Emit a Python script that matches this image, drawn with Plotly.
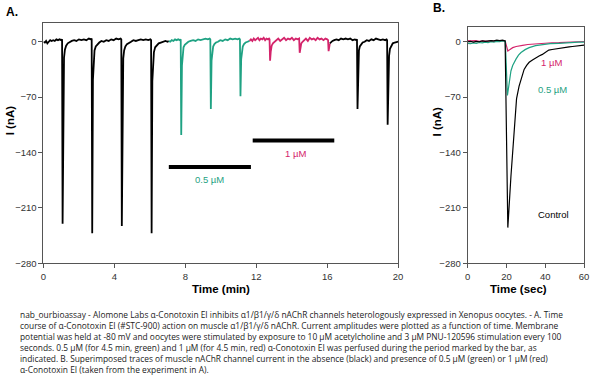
import plotly.graph_objects as go

# ---------------- Panel A data (time in min, current in nA) ----------------
a_black1_t = [0.00, 0.08, 0.15, 0.22, 0.30, 0.38, 0.46, 0.55, 0.64, 0.73, 0.82, 0.91, 1.00, 1.05,
              1.08, 1.12, 1.16, 1.21, 1.28, 1.37, 1.48, 1.60, 1.73, 1.86, 2.00, 2.14, 2.28, 2.42, 2.56, 2.68, 2.72,
              2.75, 2.79, 2.83, 2.88, 2.95, 3.04, 3.15, 3.27, 3.40, 3.54, 3.68, 3.82, 3.96, 4.10, 4.24, 4.35, 4.39,
              4.42, 4.46, 4.50, 4.55, 4.62, 4.71, 4.82, 4.94, 5.07, 5.21, 5.35, 5.49, 5.63, 5.77, 5.91, 6.03, 6.07,
              6.10, 6.14, 6.18, 6.23, 6.30, 6.39, 6.50, 6.62, 6.75, 6.88, 7.00, 7.07]
a_black1_i = [0, -1, 1, -2, 0, 2, 1, 2, 1, 3, 2, 3, 2, 3,
              -230, -45, -20, -10, -5, -2, 0, 1, 2, 1, 3, 2, 3, 2, 4, 3, 4,
              -242, -48, -22, -11, -6, -3, -1, 1, 0, 2, 1, 3, 2, 4, 3, 4, 3,
              -233, -46, -21, -11, -6, -3, -1, 0, 2, 1, 2, 3, 2, 3, 2, 3, 2,
              -242, -50, -24, -13, -7, -4, -2, -1, 0, 1, 0, 1]

a_green_t = [7.07, 7.15, 7.24, 7.33, 7.42, 7.51, 7.60, 7.69, 7.74,
             7.77, 7.81, 7.85, 7.90, 7.97, 8.06, 8.17, 8.30, 8.44, 8.58, 8.72, 8.86, 9.00, 9.14, 9.27, 9.37, 9.41,
             9.44, 9.48, 9.52, 9.57, 9.64, 9.73, 9.84, 9.97, 10.11, 10.25, 10.39, 10.53, 10.67, 10.81, 10.95, 11.04, 11.08,
             11.11, 11.15, 11.19, 11.24, 11.31, 11.40, 11.51, 11.62]
a_green_i = [1, 0, 2, 1, 3, 2, 3, 2, 3,
             -118, -30, -14, -7, -4, -2, 0, 1, 2, 1, 3, 2, 3, 4, 3, 4, 3,
             -85, -24, -11, -6, -3, -1, 0, 2, 1, 3, 2, 4, 3, 4, 3, 4, 3,
             -69, -22, -10, -6, -3, -1, 0, 1]

a_red_t = [11.62, 11.70, 11.78, 11.86, 11.94, 12.02, 12.10, 12.18, 12.26, 12.34, 12.42, 12.50, 12.58, 12.66, 12.72, 12.75,
           12.78, 12.82, 12.87, 12.94, 13.03, 13.13, 13.24, 13.35, 13.46, 13.57, 13.68, 13.79, 13.90, 14.01, 14.12, 14.23, 14.34, 14.42,
           14.45, 14.49, 14.54, 14.61, 14.70, 14.80, 14.91, 15.02, 15.13, 15.24, 15.35, 15.46, 15.57, 15.68, 15.79, 15.90, 16.00, 16.05,
           16.08, 16.12, 16.15]
a_red_i = [1, 3, 1, 4, 2, 3, 5, 2, 4, 3, 5, 2, 4, 3, 4, 3,
           -24, -12, -5, -2, 0, 2, 4, 1, 3, 5, 2, 4, 3, 5, 2, 4, 3, 4,
           -14, -6, -2, 0, 2, 4, 1, 5, 3, 4, 2, 5, 3, 4, 2, 4, 3, 2,
           -12, -5, -2]

a_black2_t = [16.15, 16.22, 16.30, 16.40, 16.52, 16.65, 16.78, 16.91, 17.04, 17.17, 17.30, 17.43, 17.56, 17.64, 17.68,
              17.71, 17.75, 17.79, 17.84, 17.91, 18.00, 18.11, 18.23, 18.36, 18.49, 18.62, 18.75, 18.88, 19.01, 19.14, 19.27, 19.35, 19.38,
              19.41, 19.45, 19.49, 19.54, 19.61, 19.70, 19.81, 19.92, 20.00]
a_black2_i = [-2, 0, 1, 2, 3, 2, 4, 3, 4, 3, 4, 2, 3, 2, 3,
              -85, -25, -11, -6, -3, -1, 0, 2, 1, 3, 2, 4, 3, 2, 3, 2, 3, 2,
              -105, -38, -18, -9, -5, -2, -1, 0, 0]

# perfusion bars (start, end, level)
bar_05_t = [7.07, 11.70]
bar_05_i = [-158.5, -158.5]
bar_1_t = [11.80, 16.40]
bar_1_i = [-124.8, -124.8]

# ---------------- Panel B data (time in sec, current in nA) ----------------
b_black_t = [0, 1.5, 3, 4.5, 6, 7.5, 9, 10.5, 12, 13.5, 15, 16.5, 18, 19.3, 20.7, 22.3, 24.0, 25.2, 26.5, 27.8,
             29.1, 30.4, 31.7, 33.4, 35.1, 36.8, 38.5, 40.2, 41.8, 43.5, 45.2, 47, 48.7, 50.5, 52.3, 54, 55.4, 57, 58.5, 60]
b_black_i = [0, 0.5, -0.5, 0.5, 0, 1, 0.5, 1, 1.5, 1, 2, 1.5, 2, 1, -235, -170, -109, -72, -56, -45,
             -35, -30, -26, -23, -20, -18, -16, -13.5, -10.5, -9.8, -9, -8.3, -7.5, -7, -6.5, -6, -5.5, -5, -4.6, -4.2]

b_green_t = [0, 1.5, 3, 4.5, 6, 7.5, 9, 10.5, 12, 13.5, 15, 16.5, 18, 19.4, 20.5, 21.5, 22.3, 23.2, 24.1, 24.9,
             26.2, 27.5, 29.6, 31.7, 35, 38.5, 42.5, 47, 52, 57.1, 60]
b_green_i = [-2, -2.5, -1.5, -2, -1, -1.5, -0.5, -1, 0, -0.5, 0.5, 0, 1, 0.5, -68, -47, -37, -30, -25, -22,
             -17, -13.7, -10, -7.5, -5, -3.4, -2.5, -2, -1, -0.5, -0.5]

b_red_t = [0, 2, 4, 6, 8, 10, 12, 14, 16, 18, 19.3, 20.7, 22, 23.2, 25, 26.7, 28.3, 31, 33.8, 36.8,
           40, 43.5, 47, 51, 55, 58.8, 60]
b_red_i = [1.5, 1, 1.5, 0.5, 1, 0.5, 1, 0.5, 1, 1.5, 1, -11.7, -9.5, -7.5, -6, -5, -4.6, -3.5, -2.8, -2.1,
           -1.6, -1.3, -1.2, -0.8, -0.2, 0.4, 0.3]

y_ticks = [0, -70, -140, -210, -280]
a_x_ticks = [0, 4, 8, 12, 16, 20]
b_x_ticks = [0, 20, 40, 60]

caption_lines = [
    "nab_ourbioassay - Alomone Labs α-Conotoxin EI inhibits α1/β1/γ/δ nAChR channels heterologously expressed in Xenopus oocytes. - A. Time",
    "course of α-Conotoxin EI (#STC-900) action on muscle α1/β1/γ/δ nAChR. Current amplitudes were plotted as a function of time. Membrane",
    "potential was held at -80 mV and oocytes were stimulated by exposure to 10 µM acetylcholine and 3 µM PNU-120596 stimulation every 100",
    "seconds. 0.5 µM (for 4.5 min, green) and 1 µM (for 4.5 min, red) α-Conotoxin EI was perfused during the period marked by the bar, as",
    "indicated. B. Superimposed traces of muscle nAChR channel current in the absence (black) and presence of 0.5 µM (green) or 1 µM (red)",
    "α-Conotoxin EI (taken from the experiment in A).",
]

# ---------------- styling ----------------
BLACK = "#000000"
GREEN = "#1fa283"
RED = "#d4246b"
NARROW = "Liberation Sans Narrow, Arial Narrow, Liberation Sans, Arial, sans-serif"
W, H = 595, 381

fig = go.Figure()

def add(x, y, color, width, xa, ya):
    fig.add_trace(go.Scatter(x=x, y=y, mode="lines", line=dict(color=color, width=width),
                             xaxis=xa, yaxis=ya, showlegend=False, hoverinfo="skip"))

add(a_black1_t, a_black1_i, BLACK, 1.8, "x", "y")
add(a_green_t, a_green_i, GREEN, 1.8, "x", "y")
add(a_red_t, a_red_i, RED, 1.8, "x", "y")
add(a_black2_t, a_black2_i, BLACK, 1.8, "x", "y")
add(bar_05_t, bar_05_i, BLACK, 4, "x", "y")
add(bar_1_t, bar_1_i, BLACK, 4, "x", "y")

add(b_red_t, b_red_i, RED, 1.2, "x2", "y2")
add(b_green_t, b_green_i, GREEN, 1.2, "x2", "y2")
add(b_black_t, b_black_i, BLACK, 1.2, "x2", "y2")

axis_common = dict(showgrid=False, zeroline=False, showline=True, mirror=True, linecolor="#555555",
                   linewidth=1, ticks="outside", ticklen=4, tickcolor="#555555", tickwidth=1,
                   tickfont=dict(family=NARROW, size=9.5, color="#333333"))

def px_x(p):
    return p / W

def px_y(p):
    return 1 - p / H

fig.update_layout(
    width=W, height=H, margin=dict(l=0, r=0, t=0, b=0),
    paper_bgcolor="white", plot_bgcolor="white",
    xaxis=dict(domain=[px_x(41), px_x(400.5)], range=[0, 20], tickvals=a_x_ticks, anchor="y", **axis_common),
    yaxis=dict(domain=[px_y(266.7), px_y(23.3)], range=[-280, 23.7], tickvals=y_ticks, anchor="x", **axis_common),
    xaxis2=dict(domain=[px_x(471), px_x(589)], range=[0, 60], tickvals=b_x_ticks, anchor="y2", **axis_common),
    yaxis2=dict(domain=[px_y(266.7), px_y(27.3)], range=[-280, 18.7], tickvals=y_ticks, anchor="x2", **axis_common),
)

ann = []
def paper_text(text, x, y, size, bold=False, angle=0, family=NARROW, color="#000000", xanchor="center"):
    ann.append(dict(text=f"<b>{text}</b>" if bold else text, x=px_x(x), y=px_y(y), xref="paper", yref="paper",
                    showarrow=False, textangle=angle, xanchor=xanchor, yanchor="middle",
                    font=dict(family=family, size=size, color=color)))

paper_text("A.", 9, 12, 12, bold=True, family="Liberation Sans, Arial")
paper_text("B.", 442, 8, 12, bold=True, family="Liberation Sans, Arial")
paper_text("I (nA)", 8, 122, 11.5, bold=True, angle=-90, family="Liberation Sans, Arial")
paper_text("I (nA)", 440, 123, 11.5, bold=True, angle=-90, family="Liberation Sans, Arial")
paper_text("Time (min)", 221, 293, 11.5, bold=True)
paper_text("Time (sec)", 523, 293, 11.5, bold=True)

def data_text(text, x, y, xa, ya, color):
    ann.append(dict(text=text, x=x, y=y, xref=xa, yref=ya, showarrow=False,
                    font=dict(family=NARROW, size=9.5, color=color)))

data_text("0.5 µM", 9.35, -174.7, "x", "y", GREEN)
data_text("1 µM", 14.2, -141.5, "x", "y", RED)
data_text("1 µM", 43.0, -26.5, "x2", "y2", RED)
data_text("0.5 µM", 43.9, -61.0, "x2", "y2", GREEN)
data_text("Control", 44.0, -218, "x2", "y2", BLACK)

ann.append(dict(text="<br>".join(caption_lines), x=px_x(15), y=px_y(311), xref="paper", yref="paper",
                showarrow=False, xanchor="left", yanchor="top", align="left",
                font=dict(family="Open Sans, Noto Sans, sans-serif", size=8.4, color="#222222")))

fig.update_layout(annotations=ann)
fig.write_html("out.html", config={"displayModeBar": False},
               post_script="document.body.style.margin='0';document.body.style.overflow='hidden';")
